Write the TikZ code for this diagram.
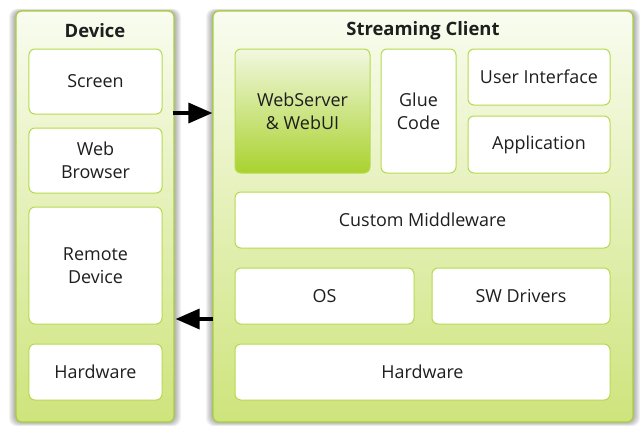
\documentclass[tikz,border=0pt]{standalone}
\usepackage{fontspec}
\setmainfont{Open Sans}
\usetikzlibrary{arrows.meta}
\definecolor{outerborder}{HTML}{A8D03C}
\definecolor{innerborder}{HTML}{B6DA4E}
\definecolor{outertop}{HTML}{F9FCF0}
\definecolor{outerbot}{HTML}{CEE47C}
\definecolor{wstop}{HTML}{F2F8E0}
\definecolor{wsbot}{HTML}{A9D22E}
\definecolor{txt}{HTML}{1E1E1E}
\tikzset{
  outerbox/.style={draw=outerborder, line width=1.2bp, rounded corners=6bp,
    top color=outertop, bottom color=outerbot, inner sep=0pt},
  innerbox/.style={draw=innerborder, line width=1bp, rounded corners=6bp,
    fill=white, inner sep=0pt, align=center, text=txt,
    font=\fontsize{18}{23}\selectfont},
  wsbox/.style={innerbox, top color=wstop, bottom color=wsbot},
  titletext/.style={font=\fontsize{18.5}{22}\selectfont\bfseries, text=txt, inner sep=0pt},
  arr/.style={line width=3.5bp, -{Triangle[length=24bp,width=20bp]}},
}
\begin{document}
\begin{tikzpicture}[x=1bp,y=-1bp]
\useasboundingbox (0,0) rectangle (640,425);
% soft shadows
\foreach \e in {1,...,7}{
  \fill[black, opacity=0.05, rounded corners=8bp] (16-\e,11-\e*0.3) rectangle (174+\e,422+\e*0.6);
  \fill[black, opacity=0.05, rounded corners=8bp] (213-\e,11-\e*0.3) rectangle (633+\e,422+\e*0.6);
}
% outer containers
\node[outerbox, minimum width=158bp, minimum height=411bp] (dev) at (95,216.5) {};
\node[outerbox, minimum width=420bp, minimum height=411bp] (sc) at (423,216.5) {};
\node[titletext] (devt) at (95,30.5) {Device};
\node[titletext] (sct) at (423,30.5) {Streaming Client};
% device column
\node[innerbox, minimum width=133bp, minimum height=65bp] (screen) at (95.5,81.5) {Screen};
\node[innerbox, minimum width=133bp, minimum height=65bp] (web) at (95.5,160.5) {Web\\Browser};
\node[innerbox, minimum width=133bp, minimum height=117bp] (remote) at (95.5,265.5) {Remote\\Device};
\node[innerbox, minimum width=133bp, minimum height=56bp] (dhw) at (95.5,372) {Hardware};
% streaming client
\node[wsbox, minimum width=135bp, minimum height=124bp] (ws) at (302.5,111) {WebServer\\\& WebUI};
\node[innerbox, minimum width=75bp, minimum height=124bp] (glue) at (418.5,111) {Glue\\Code};
\node[innerbox, minimum width=142bp, minimum height=56bp] (ui) at (539,77) {User Interface};
\node[innerbox, minimum width=142bp, minimum height=57bp] (app) at (539,144.5) {Application};
\node[innerbox, minimum width=375bp, minimum height=56bp] (mw) at (422.5,220) {Custom Middleware};
\node[innerbox, minimum width=179bp, minimum height=56bp] (os) at (324.5,296) {OS};
\node[innerbox, minimum width=178bp, minimum height=56bp] (drv) at (521,296) {SW Drivers};
\node[innerbox, minimum width=375bp, minimum height=56bp] (shw) at (422.5,372) {Hardware};
% arrows
\draw[arr] ([xshift=-2bp]dev.east |- 0,113) -- (sc.west |- 0,113);
\draw[arr] ([xshift=1bp]sc.west |- 0,319) -- ([xshift=1bp]dev.east |- 0,319);
\end{tikzpicture}
\end{document}
